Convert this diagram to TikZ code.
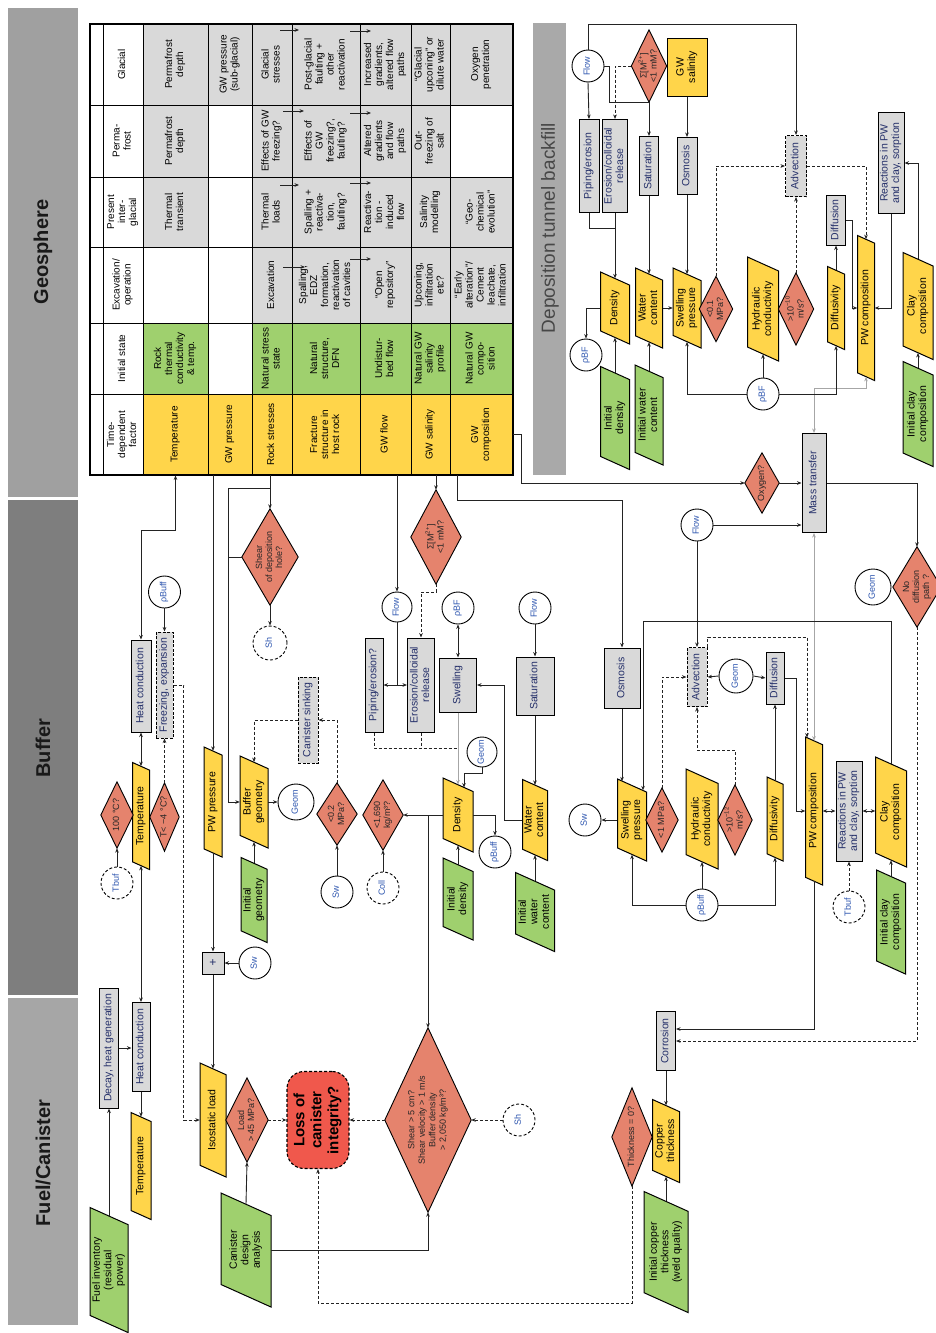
\documentclass[tikz,border=0pt]{standalone}
\usepackage{fontspec}
\setmainfont{Liberation Sans}
\usetikzlibrary{arrows.meta,calc}
\definecolor{cyel}{HTML}{FFD54A}
\definecolor{cgrn}{HTML}{9FD06E}
\definecolor{cgry}{HTML}{D9D9D9}
\definecolor{cdia}{HTML}{E5836D}
\definecolor{closs}{HTML}{F0584C}
\definecolor{lnc}{HTML}{232323}
\definecolor{bandA}{HTML}{A0A0A0}
\definecolor{bandB}{HTML}{7E7E7E}
\definecolor{bandC}{HTML}{A6A6A6}
\definecolor{bandD}{HTML}{A9A9A9}
\definecolor{navy}{HTML}{25306A}
\definecolor{lblue}{HTML}{2F57B0}
\newcommand\tbfont{\fontsize{10}{11}\selectfont}
\newcommand\bxfont{\fontsize{10.5}{11.5}\selectfont}
\newcommand\dmfont{\fontsize{9}{10}\selectfont}
\newcommand\cifont{\fontsize{9}{9.5}\selectfont}
\newcommand\rtx[1]{\rotatebox{90}{\begin{tabular}{@{}c@{}}#1\end{tabular}}}
\newcommand\gbx[7][]{\node[gbox,#1,minimum width=#5pt,minimum height=#6pt] (#2) at (#3,#4) {\rtx{#7}};}
\newcommand\pbx[7]{%
  \pgfmathsetmacro\pbSk{0.45*#4}%
  \pgfmathsetmacro\pbH{#5-\pbSk}%
  \filldraw[fill=#6,draw=black,line width=1pt] ({#2-#4/2},{#3-#5/2}) -- ({#2+#4/2},{#3-#5/2+\pbSk}) -- ({#2+#4/2},{#3+#5/2}) -- ({#2-#4/2},{#3+#5/2-\pbSk}) -- cycle;
  \node[inner sep=0pt,minimum width=#4pt,minimum height=\pbH pt,font=\bxfont] (#1) at (#2,#3) {\rtx{#7}};}
\newcommand\dmx[7][]{%
  \node[inner sep=0pt,minimum width={2*#5*1pt},minimum height={2*#6*1pt}] (#2) at (#3,#4) {};
  \filldraw[fill=cdia,draw=black,line width=0.9pt] (#2.north) -- (#2.east) -- (#2.south) -- (#2.west) -- cycle;
  \node[inner sep=0pt,font=\dmfont,text=black!85,#1] (#2t) at (#2.center) {\rtx{#7}};}
\newcommand\cix[6][]{\node[circ,#1,minimum size=#5pt] (#2) at (#3,#4) {\rtx{#6}};}
\newcommand\tcx[7]{\node[tcell,fill=#6,minimum width={(#3-#2)*1pt},minimum height={(#5-#4)*1pt}] (#1) at ({(#2+#3)/2},{(#4+#5)/2}) {\rtx{#7}};}
\tikzset{
  lnst/.style={draw=lnc,line width=0.9pt},
  arr/.style={lnst,->},
  arrb/.style={lnst,<->},
  arrd/.style={lnst,->,dash pattern=on 3pt off 2pt},
  dln/.style={lnst,dash pattern=on 3pt off 2pt},
  garr/.style={draw=gray!70,line width=1pt,->},
  garrb/.style={draw=gray!70,line width=1pt,<->},
  gbox/.style={draw=black,line width=1pt,fill=cgry,inner sep=0pt,font=\bxfont,text=navy},
  dbox/.style={dash pattern=on 3pt off 1.5pt},
  circ/.style={circle,draw=black,line width=0.9pt,fill=white,inner sep=0pt,font=\cifont,text=lblue},
  dcirc/.style={dash pattern=on 3pt off 2pt},
  tcell/.style={draw=black,line width=0.9pt,inner sep=0pt,font=\tbfont},
  band/.style={inner sep=0pt,font=\bfseries\fontsize{20}{20}\selectfont,text=black!90},
}
\begin{document}
\begin{tikzpicture}[x=1pt,y=-1pt,>={Stealth[length=4.5pt,width=3.6pt]}]
\useasboundingbox (0,0) rectangle (936,1333);
\fill[white] (0,0) rectangle (936,1333);
% ---------- side bands
\fill[bandA] (8,8) rectangle (78,497);
\fill[bandB] (8,500) rectangle (78,995);
\fill[bandC] (8,998) rectangle (78,1325);
\node[band] (bnG) at (43,252) {\rotatebox{90}{Geosphere}};
\node[band] (bnB) at (43,748) {\rotatebox{90}{Buffer}};
\node[band] (bnF) at (43,1163) {\rotatebox{90}{Fuel/Canister}};
\fill[bandD] (533,23) rectangle (566,475);
\node[inner sep=0pt,font=\fontsize{19}{19}\selectfont,text=black!72] (bnD) at (550,228) {\rotatebox{90}{Deposition tunnel backfill}};
% ---------- geosphere table
\tcx{g0}{90}{103}{24}{105}{white}{}
\tcx{g1}{103}{143}{24}{105}{white}{Glacial}
\tcx{g2}{143}{208}{24}{105}{cgry}{Permafrost\\depth}
\tcx{g3}{208}{252}{24}{105}{cgry}{GW pressure\\(sub-glacial)}
\tcx{g4}{252}{292}{24}{105}{cgry}{Glacial\\stresses}
\tcx{g5}{292}{360}{24}{105}{cgry}{Post-glacial\\faulting +\\other\\reactivation}
\tcx{g6}{360}{411}{24}{105}{cgry}{Increased\\gradients,\\altered flow\\paths}
\tcx{g7}{411}{450}{24}{105}{cgry}{“Glacial\\upconing” or\\dilute water}
\tcx{g8}{450}{513}{24}{105}{cgry}{Oxygen\\penetration}
\tcx{p0}{90}{103}{105}{177}{white}{}
\tcx{p1}{103}{143}{105}{177}{white}{Perma-\\frost}
\tcx{p2}{143}{208}{105}{177}{cgry}{Permafrost\\depth}
\tcx{p3}{208}{252}{105}{177}{white}{}
\tcx{p4}{252}{292}{105}{177}{cgry}{Effects of GW\\freezing?}
\tcx{p5}{292}{360}{105}{177}{cgry}{Effects of\\GW\\freezing?,\\faulting?}
\tcx{p6}{360}{411}{105}{177}{cgry}{Altered\\gradients\\and flow\\paths}
\tcx{p7}{411}{450}{105}{177}{cgry}{Out-\\freezing of\\salt}
\tcx{p8}{450}{513}{105}{177}{white}{}
\tcx{r0}{90}{103}{177}{247}{white}{}
\tcx{r1}{103}{143}{177}{247}{white}{Present\\inter-\\glacial}
\tcx{r2}{143}{208}{177}{247}{cgry}{Thermal\\transient}
\tcx{r3}{208}{252}{177}{247}{white}{}
\tcx{r4}{252}{292}{177}{247}{cgry}{Thermal\\loads}
\tcx{r5}{292}{360}{177}{247}{cgry}{Spalling +\\reactiva-\\tion,\\faulting?}
\tcx{r6}{360}{411}{177}{247}{cgry}{Reactiva-\\tion -\\induced\\flow}
\tcx{r7}{411}{450}{177}{247}{cgry}{Salinity\\modelling}
\tcx{r8}{450}{513}{177}{247}{cgry}{“Geo-\\chemical\\evolution”}
\tcx{e0}{90}{103}{247}{323}{white}{}
\tcx{e1}{103}{143}{247}{323}{white}{Excavation/\\operation}
\tcx{e2}{143}{208}{247}{323}{white}{}
\tcx{e3}{208}{252}{247}{323}{white}{}
\tcx{e4}{252}{292}{247}{323}{cgry}{Excavation}
\tcx{e5}{292}{360}{247}{323}{cgry}{Spalling,\\EDZ\\formation,\\reactivation\\of cavities}
\tcx{e6}{360}{411}{247}{323}{cgry}{“Open\\repository”}
\tcx{e7}{411}{450}{247}{323}{cgry}{Upconing,\\infiltration\\etc?}
\tcx{e8}{450}{513}{247}{323}{cgry}{“Early\\alteration”/\\Cement\\leachate,\\infiltration}
\tcx{i0}{90}{103}{323}{394}{white}{}
\tcx{i1}{103}{143}{323}{394}{white}{Initial state}
\tcx{i2}{143}{208}{323}{394}{cgrn}{Rock\\thermal\\conductivity\\\& temp.}
\tcx{i3}{208}{252}{323}{394}{white}{}
\tcx{i4}{252}{292}{323}{394}{cgrn}{Natural stress\\state}
\tcx{i5}{292}{360}{323}{394}{cgrn}{Natural\\structure,\\DFN}
\tcx{i6}{360}{411}{323}{394}{cgrn}{Undistur-\\bed flow}
\tcx{i7}{411}{450}{323}{394}{cgrn}{Natural GW\\salinity\\profile}
\tcx{i8}{450}{513}{323}{394}{cgrn}{Natural GW\\compo-\\sition}
\tcx{t0}{90}{103}{394}{475}{white}{}
\tcx{t1}{103}{143}{394}{475}{white}{Time-\\dependent\\factor}
\tcx{tTemp}{143}{208}{394}{475}{cyel}{Temperature}
\tcx{tGWP}{208}{252}{394}{475}{cyel}{GW pressure}
\tcx{tRock}{252}{292}{394}{475}{cyel}{Rock stresses}
\tcx{tFrac}{292}{360}{394}{475}{cyel}{Fracture\\structure in\\host rock}
\tcx{tFlow}{360}{411}{394}{475}{cyel}{GW flow}
\tcx{tSal}{411}{450}{394}{475}{cyel}{GW salinity}
\tcx{tComp}{450}{513}{394}{475}{cyel}{GW\\composition}
\draw[line width=1.6pt] (90,24) rectangle (513,475);
\draw[arr] (280,30) -- (299,30);
\draw[arr] (350,31) -- (371,31);
\draw[arr] (283,111) -- (304,111);
\draw[arr] (350,113) -- (371,113);
\draw[arr] (280,185) -- (299,185);
\draw[arr] (350,183) -- (371,183);
\draw[arr] (283,267) -- (305,267);
\draw[arr] (350,259) -- (371,259);
% ---------- backfill
\cix{bfFlow}{588}{66}{32}{Flow}
\gbx{bfPip}{589}{166}{20}{93}{Piping/erosion}
\gbx{bfEro}{615}{166}{25}{93}{Erosion/colloidal\\release}
\dmx{bfDSig}{649}{66}{17.5}{36}{Σ[M\textsuperscript{2+}]\\<1 mM?}
\node[draw=black,line width=1pt,fill=cyel,inner sep=0pt,minimum width=40pt,minimum height=58pt,font=\bxfont] (bfSal) at (687,67) {\rtx{GW\\salinity}};
\gbx{bfSat}{649}{166}{19}{59}{Saturation}
\gbx{bfOsm}{687}{166}{20}{57}{Osmosis}
\gbx[dbox]{bfAdv}{796}{166}{21}{61}{Advection}
\gbx{bfDif}{836}{220}{19}{50}{Diffusion}
\gbx{bfRea}{891}{163}{26}{101}{Reactions in PW\\and clay, sorption}
\pbx{bfDens}{615}{308}{29}{72}{cyel}{Density}
\pbx{bfWc}{649}{308}{27}{80}{cyel}{Water\\content}
\pbx{bfSp}{687}{308}{28}{80}{cyel}{Swelling\\pressure}
\dmx{bfD01}{716}{309}{16.5}{32.5}{<0.1\\MPa?}
\pbx{bfHco}{763}{309}{31}{104}{cyel}{Hydraulic\\conductivity}
\dmx{bfD10}{796}{309}{17.5}{36}{>10\textsuperscript{−10}\\m/s?}
\pbx{bfDfv}{836}{308}{17}{83}{cyel}{Diffusivity}
\pbx{bfPwc}{866}{308}{17}{145}{cyel}{PW composition}
\pbx{bfClay}{918}{306}{30}{107}{cyel}{Clay\\composition}
\pbx{bfIclay}{918}{414}{30}{105}{cgrn}{Initial clay\\composition}
\pbx{bfIdens}{615}{418}{29}{103}{cgrn}{Initial\\density}
\pbx{bfIwc}{649}{415}{28}{100}{cgrn}{Initial water\\content}
\cix{bfBF1}{586}{355}{32}{ρBF}
\cix{bfBF2}{763}{394}{32}{ρBF}
% ---------- buffer left
\gbx{hcB}{141}{686}{20}{92}{Heat conduction}
\gbx[dbox]{frz}{164.5}{685}{17}{106}{Freezing, expansion}
\cix{cBuffB1}{164.5}{592}{32}{ρBuff}
\pbx{tmpB}{141}{816}{17}{107}{cyel}{Temperature}
\dmx{d100}{117}{815}{16}{33}{100 °C?}
\dmx{dT0}{164.5}{817}{14.5}{34}{T< −4 °C?}
\cix[dcirc]{cTbuf1}{117}{883}{32}{Tbuf}
\pbx{pwp}{213}{802}{18}{110}{cyel}{PW pressure}
\node[gbox,minimum size=22pt,font=\fontsize{12}{12}\selectfont] (plus) at (213,963) {+};
\cix{cSwB2}{255}{963}{32}{Sw}
\dmx{dShear}{270}{557}{28}{48}{Shear\\of deposition\\hole?}
\cix[dcirc]{cSh1}{270}{643}{34}{Sh}
\pbx{bgeo}{254}{802}{28}{92}{cyel}{Buffer\\geometry}
\pbx{igeo}{254}{900}{26}{85}{cgrn}{Initial\\geometry}
\cix{cGeomB1}{296}{802}{36}{Geom}
\gbx[dbox]{sink}{308}{720}{20}{86}{Canister sinking}
\dmx{d02}{337}{814}{20}{31}{<0.2\\MPa?}
\cix{cSwB1}{337}{892}{32}{Sw}
\dmx{d1690}{383}{815}{20}{35}{<1,690\\kg/m³?}
\cix[dcirc]{cColl}{383}{888}{32}{Coll}
% ---------- buffer middle
\gbx{pip}{374}{685}{18}{94}{Piping/erosion?}
\cix{cFlowB1}{397}{607}{30}{Flow}
\gbx{ero}{421}{685}{27}{94}{Erosion/colloidal\\release}
\dmx{dSig}{436}{537}{25}{47}{Σ[M\textsuperscript{2+}]\\<1 mM?}
\gbx{swl}{458}{685}{37}{54}{Swelling}
\cix{cBF1}{458}{608}{32}{ρBF}
\pbx{densB}{458}{815}{30}{74}{cyel}{Density}
\pbx{idensB}{458}{899}{30}{82}{cgrn}{Initial\\density}
\cix{cGeomB2}{482}{752}{30}{Geom}
\cix{cBuffB2}{495}{852}{32}{ρBuff}
\gbx{sat}{535}{686}{38}{58}{Saturation}
\cix{cFlowB2}{535}{608}{32}{Flow}
\pbx{wcB}{535}{820}{25}{81}{cyel}{Water\\content}
\pbx{iwcB}{535}{912}{39}{79}{cgrn}{Initial\\water\\content}
% ---------- buffer right
\gbx{osm}{622}{678}{36}{60}{Osmosis}
\pbx{spB}{632}{820}{29}{82}{cyel}{Swelling\\pressure}
\cix{cSwB3}{585}{820}{32}{Sw}
\dmx{d1MPa}{662}{820}{16}{32}{<1 MPa?}
\pbx{hcoB}{702}{819}{32}{100}{cyel}{Hydraulic\\conductivity}
\cix{cBuffB3}{702}{905}{32}{ρBuff}
\dmx{d12}{735}{820}{17}{35}{>10\textsuperscript{−12}\\m/s?}
\gbx[dbox]{adv}{697}{677}{20}{59}{Advection}
\cix{cFlowB3}{697}{525}{32}{Flow}
\cix{cGeomB3}{736}{676}{34}{Geom}
\gbx{dif}{775}{678}{18}{52}{Diffusion}
\pbx{dfvB}{775}{819}{16}{84}{cyel}{Diffusivity}
\pbx{pwcB}{814}{811}{17}{148}{cyel}{PW composition}
\gbx{mt}{814}{483}{24}{99}{Mass transfer}
\dmx{dOx}{762}{483}{17}{30}{Oxygen?}
\gbx{rea}{849}{811}{26}{100}{Reactions in PW\\and clay, sorption}
\cix[dcirc]{cTbuf2}{849}{907}{32}{Tbuf}
\pbx{clayB}{891}{812}{31}{110}{cyel}{Clay\\composition}
\pbx{iclayB}{891}{922}{29}{104}{cgrn}{Initial clay\\composition}
\dmx{dNoD}{917}{587}{24}{40}{No\\diffusion\\path ?}
\cix{cGeomB4}{873}{587}{36}{Geom}
% ---------- fuel / canister
\gbx{dec}{109}{1048}{19}{120}{Decay, heat generation}
\gbx{hcF}{141}{1047}{18}{89}{Heat conduction}
\pbx{tmpF}{141}{1166}{20}{107}{cyel}{Temperature}
\pbx{fuel}{109}{1270}{38}{125}{cgrn}{Fuel inventory\\(residual\\power)}
\pbx{iso}{213}{1120}{26}{114}{cyel}{Isostatic load}
\dmx{dLoad}{247}{1120}{21}{42}{Load\\> 45 MPa?}
\pbx{cda}{246}{1250}{50}{114}{cgrn}{Canister\\design\\analysis}
\node[draw=black,dash pattern=on 3pt off 2pt,line width=1.1pt,fill=closs,rounded corners=17pt,minimum width=62pt,minimum height=97pt,inner sep=0pt,font=\bfseries\fontsize{15}{17}\selectfont] (loss) at (318,1120) {\rtx{Loss of\\canister\\integrity?}};
\dmx[font=\fontsize{9}{10.5}\selectfont]{dBig}{428}{1120}{43}{92}{Shear > 5 cm?\\Shear velocity > 1 m/s\\Buffer density\\> 2,050 kg/m³?}
\cix[dcirc]{cSh2}{519}{1120}{32}{Sh}
\dmx{dThk}{632}{1137}{20}{49}{Thickness = 0?}
\gbx{cor}{666}{1041}{19}{59}{Corrosion}
\pbx{cu}{666}{1141}{27}{83}{cyel}{Copper\\thickness}
\pbx{icu}{666}{1252}{44}{121}{cgrn}{Initial copper\\thickness\\(weld quality)}
% ========== connectors
% table -> buffer
\draw[arrb] (hcB.north) |- (tTemp.south |- 0,530) -- (tTemp.south);
\draw[arr] (pwp.north |- tGWP.south) -- (pwp.north);
\draw[arr] (dShear.north |- tRock.south) -- (dShear.north);
\draw[arr] (dShear.north |- 0,488) -- (228,488) |- (bgeo.west);
\draw[lnst] (228,557) -- (dShear.west);
\draw[arr] (dShear.south) -- (cSh1.north);
\draw[arr] (cFlowB1.north |- tFlow.south) -- (cFlowB1.north);
\draw[arr] (dSig.north |- tSal.south) -- (dSig.north);
\draw[arrd] (dSig.south) |- (ero.north |- 0,592) -- (ero.north);
\draw[arr] ($(tComp.south)+(-24,0)$) |- (osm.north |- 0,500) -- (osm.north);
\draw[arr] (tComp.east) -- ++(8,0) |- (dOx.west);
\draw[arr] (dOx.east) -- (mt.west);
\draw[arr] (cFlowB3.east) -- (cFlowB3.east -| mt.west);
\draw[arr] (cFlowB3.south) -- (adv.north);
\draw[arr] (mt.east) -| (dNoD.north);
\draw[arrd] (dNoD.south) |- (cor.east);
\draw[garrb] (mt.south) -- (pwcB.north);
\draw[garrb] (mt.north) |- (bfPwc.south |- 0,388) -- (bfPwc.south);
% buffer right
\draw[arr] (clayB.north) |- (643,621) -- ($(spB.north)+(11,5)$);
\draw[arr] (osm.south) -- ($(spB.north)+(-10,-4)$);
\draw[arr] (spB.west) -- (cSwB3.east);
\draw[arrd] (d1MPa.north) |- (adv.west);
\draw[arr] (cGeomB3.west) -- (adv.east);
\draw[arr] (cGeomB3.east) -- (dif.west);
\draw[arrd] (adv.north east) -- ++(0,-10) -| ($(pwcB.north)+(-7,-3)$);
\draw[arrd] (d12.north) |- (adv.south |- 0,750) -- (adv.south);
\draw[arr] (dif.east) -- ++(12,0) |- (pwcB.west);
\draw[arr] (dfvB.north) -- (dif.south);
\draw[arr] (cBuffB3.north) -- (hcoB.south);
\draw[arr] (cBuffB3.west) -| (spB.south);
\draw[arr] (cBuffB3.east) -| (dfvB.south);
\draw[arrb] (pwcB.east) -- (pwcB.east -| rea.west);
\draw[arrb] (rea.east) -- (rea.east -| clayB.west);
\draw[arrd] (cTbuf2.north) -- (rea.south);
\draw[arr] (iclayB.north) -- (clayB.south);
\draw[arr] (pwcB.south) |- ($(cor.east)+(0,-12)$);
% buffer middle
\draw[lnst] (cFlowB1.south) -- (cFlowB1.south |- pip.east);
\draw[arr] (cFlowB1.south |- pip.east) -- (pip.east);
\draw[arr] (cFlowB1.south |- ero.west) -- (ero.west);
\draw[dln] (pip.south) |- (densB.north |- 0,748);
\draw[dln] (ero.south) -- (ero.south |- 0,748);
\draw[garr] (swl.south) -- (densB.north);
\draw[arrb] (cBF1.south) -- (swl.north);
\draw[arr] (cFlowB2.south) -- (sat.north);
\draw[arr] (sat.south) -- (wcB.north);
\draw[arr] (wcB.west) -- ++(-18,0) |- (swl.east);
\draw[arr] (cGeomB2.south) -- ++(0,6) -| ($(densB.north)+(6,3)$);
\draw[arr] (densB.east) -| (cBuffB2.north);
\draw[arr] (idensB.north) -- (densB.south);
\draw[arr] (densB.west) -- (d1690.east);
\draw[arr] (dBig.north |- densB.west) -- (dBig.north);
\draw[arr] (cColl.north) -- (d1690.south);
\draw[arr] (iwcB.north) -- (wcB.south);
% buffer left
\draw[arr] (cBuffB1.south) -- (frz.north);
\draw[arrb] (hcB.south) -- (tmpB.north);
\draw[arrb] (tmpB.south) -- (hcF.north);
\draw[arrd] (dT0.north) -- (frz.south);
\draw[arrd] (frz.east) -- ++(10,0) |- (iso.west);
\draw[arr] (cTbuf1.north) -- (d100.south);
\draw[arr] (pwp.south) -- (plus.north);
\draw[arr] (cSwB2.west) -- (plus.east);
\draw[arr] (plus.south) -- (iso.north);
\draw[arr] (bgeo.east) -- (cGeomB1.west);
\draw[arr] (igeo.north) -- (bgeo.south);
\draw[arrd] (sink.west) -| (bgeo.north);
\draw[arrd] (d02.north) |- (sink.east);
\draw[arr] (cSwB1.north) -- (d02.south);
% fuel / canister
\draw[arr] (fuel.north) -- (dec.south);
\draw[arr] (dec.east) -- (dec.east -| hcF.west);
\draw[arr] (hcF.south) -- (tmpF.north);
\draw[arr] (cda.north) -- (dLoad.south);
\draw[arrd] (dLoad.east) -- (loss.west);
\draw[arrd] (dBig.west) -- (loss.east);
\draw[arrd] (cSh2.west) -- (dBig.east);
\draw[arr] (cda.east) -| (dBig.south);
\draw[arrd] (dThk.south) |- (loss.south |- 0,1303) -- (loss.south);
\draw[arr] (cor.south) -- (cu.north);
\draw[arr] (icu.north) -- (cu.south);
% backfill connectors
\draw[arr] (bfFlow.north) |- (bfAdv.north |- 0,24) -- (bfAdv.north);
\draw[arr] (bfFlow.south) -- (bfPip.north);
\draw[arr] (bfFlow.east) -- (609,66) |- (bfDSig.south) -- (bfSat.north);
\draw[arrd] (bfDSig.west) -| (bfEro.north);
\draw[arr] (bfSal.south) -- (bfOsm.north);
\draw[lnst] (bfPip.south) |- (bfEro.south |- 0,228);
\draw[arr] (bfEro.south) -- (bfDens.north);
\draw[arr] (bfSat.south) -- (bfWc.north);
\draw[arr] (bfOsm.south) -- (bfSp.north);
\draw[arr] (bfWc.east) -- (bfSp.west);
\draw[arrd] (bfD01.north) |- (bfAdv.west);
\draw[arrd] (bfD10.north) -- (bfAdv.south);
\draw[arrd] (bfAdv.east) -| (bfPwc.north);
\draw[arr] (bfDif.east) -- ++(6,0) |- (bfPwc.west);
\draw[arr] (bfDfv.north) -- (bfDif.south);
\draw[arr] (bfRea.south) |- (bfPwc.east);
\draw[arr] (bfClay.north) |- (bfRea.east);
\draw[arr] (bfIclay.north) -- (bfClay.south);
\draw[arr] (bfIdens.north) -- (bfDens.south);
\draw[arr] (bfIwc.north) -- (bfWc.south);
\draw[arr] (bfDens.west) -| (bfBF1.north);
\draw[arr] (bfBF2.north) -- (bfHco.south);
\draw[arr] (bfBF2.west) -| (bfSp.south);
\draw[arr] (bfBF2.east) -| (bfDfv.south);
\end{tikzpicture}
\end{document}
